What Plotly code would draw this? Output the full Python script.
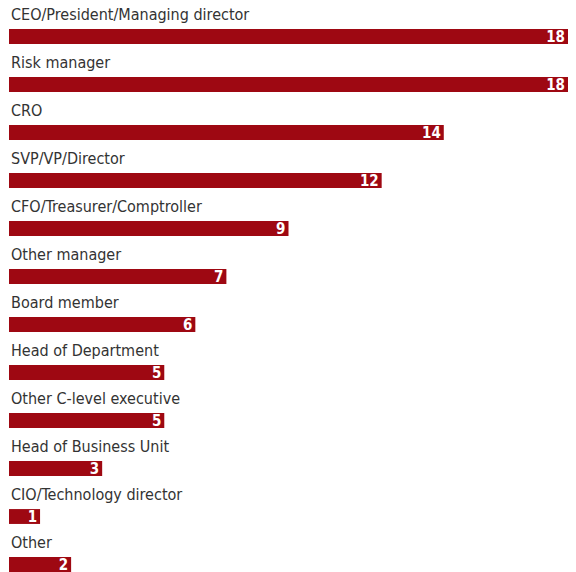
import plotly.graph_objects as go

roles = ["CEO/President/Managing director", "Risk manager", "CRO", "SVP/VP/Director",
         "CFO/Treasurer/Comptroller", "Other manager", "Board member", "Head of Department",
         "Other C-level executive", "Head of Business Unit", "CIO/Technology director", "Other"]
counts = [18, 18, 14, 12, 9, 7, 6, 5, 5, 3, 1, 2]

bar_color = "#9e0812"
font_family = "DejaVu Sans Condensed, Liberation Sans Narrow, sans-serif"

pos = list(range(len(roles)))

fig = go.Figure(go.Bar(
    x=counts, y=pos, orientation="h",
    width=0.31,
    marker=dict(color=bar_color, line=dict(width=0)),
    text=[str(c) for c in counts],
    textposition="inside",
    insidetextanchor="end",
    textangle=0,
    constraintext="none",
    textfont=dict(color="white", size=15, family=font_family, weight="bold"),
    hoverinfo="skip",
))

for i, r in enumerate(roles):
    fig.add_annotation(x=0, y=i - 0.45, xref="paper", yref="y", text=r,
                       showarrow=False, xanchor="left", yanchor="middle",
                       font=dict(size=16, color="#333333", family=font_family))

# page body adds an 8px margin, so the figure is made a bit smaller
fig.update_layout(
    width=560, height=564,
    margin=dict(l=1, r=0, t=0, b=0),
    plot_bgcolor="white", paper_bgcolor="white",
    showlegend=False,
    xaxis=dict(range=[0, 18], visible=False, fixedrange=True),
    yaxis=dict(range=[11.156, -0.594], visible=False, fixedrange=True),
)

fig.write_html("out.html")
